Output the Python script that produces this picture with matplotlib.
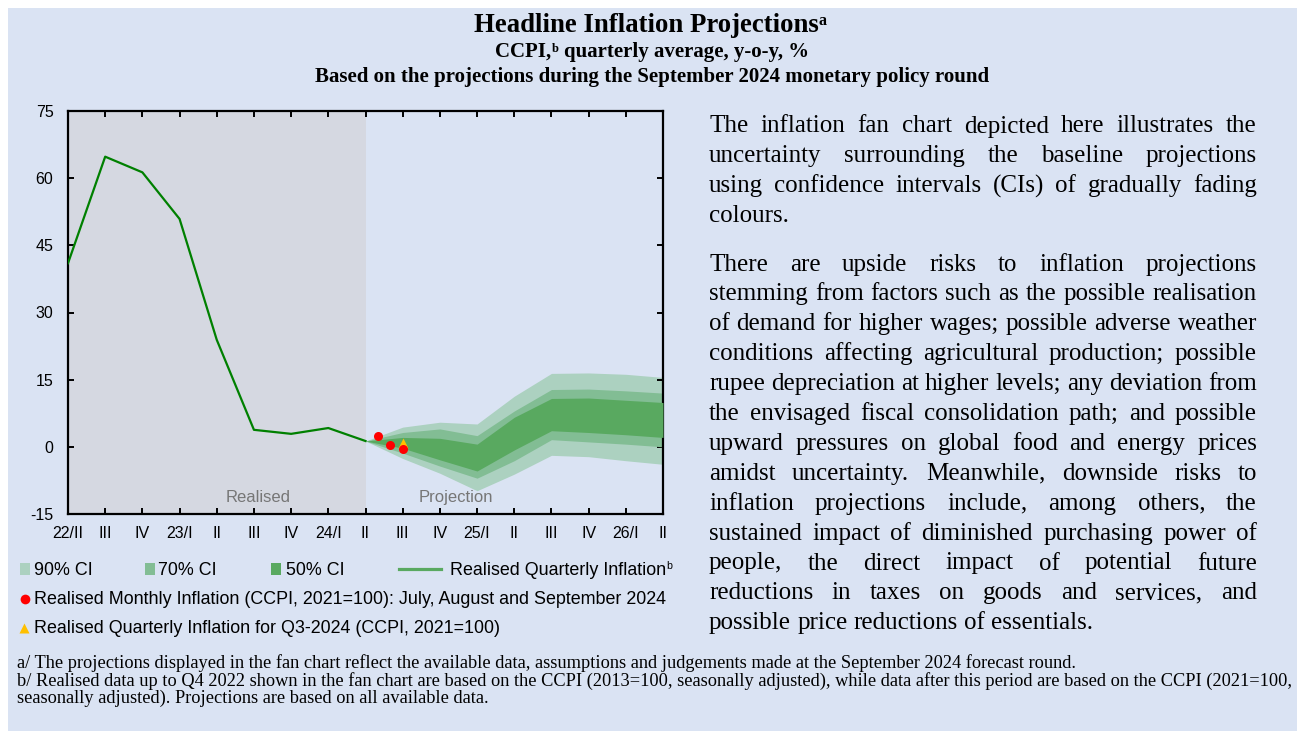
import matplotlib
matplotlib.use('Agg')
import matplotlib.pyplot as plt
from matplotlib.patches import Rectangle
from matplotlib.lines import Line2D

plt.rcParams['axes.unicode_minus'] = False

# ---- data ----
quarters = ['22/II', 'III', 'IV', '23/I', 'II', 'III', 'IV', '24/I', 'II',
            'III', 'IV', '25/I', 'II', 'III', 'IV', '26/I', 'II']
realised = [41.0, 64.8, 61.3, 50.9, 23.9, 3.8, 2.9, 4.2, 1.3]   # 22/II .. 24/II

# fan bands 24/II .. 26/II
ci90_hi = [1.3, 4.4, 5.5, 5.1, 11.3, 16.4, 16.5, 16.2, 15.5]
ci70_hi = [1.3, 3.2, 4.0, 2.5, 8.0, 12.8, 12.9, 12.5, 12.0]
ci50_hi = [1.3, 2.1, 1.9, 0.6, 6.6, 10.8, 10.9, 10.4, 9.9]
ci50_lo = [1.3, -0.3, -2.9, -5.4, -0.7, 3.6, 3.2, 2.7, 2.1]
ci70_lo = [1.3, -1.4, -4.3, -7.0, -3.1, 1.6, 1.1, 0.6, 0.0]
ci90_lo = [1.3, -2.6, -5.9, -9.8, -6.1, -1.9, -2.2, -3.1, -3.9]

months = ['Jul 2024', 'Aug 2024', 'Sep 2024']
monthly = [2.4, 0.5, -0.5]
q3_2024 = 0.8

para1 = ["The inflation fan chart depicted here illustrates the",
         "uncertainty surrounding the baseline projections",
         "using confidence intervals (CIs) of gradually fading",
         "colours."]
para2 = ["There are upside risks to inflation projections",
         "stemming from factors such as the possible realisation",
         "of demand for higher wages; possible adverse weather",
         "conditions affecting agricultural production; possible",
         "rupee depreciation at higher levels; any deviation from",
         "the envisaged fiscal consolidation path; and possible",
         "upward pressures on global food and energy prices",
         "amidst uncertainty. Meanwhile, downside risks to",
         "inflation projections include, among others, the",
         "sustained impact of diminished purchasing power of",
         "people, the direct impact of potential future",
         "reductions in taxes on goods and services, and",
         "possible price reductions of essentials."]
notes = ["a/ The projections displayed in the fan chart reflect the available data, assumptions and judgements made at the September 2024 forecast round.",
         "b/ Realised data up to Q4 2022 shown in the fan chart are based on the CCPI (2013=100, seasonally adjusted), while data after this period are based on the CCPI (2021=100,",
         "seasonally adjusted). Projections are based on all available data."]

BG = '#dae3f3'
GREY = '#d5d8e1'
C90, C70, C50 = '#acd1c0', '#82bd94', '#59a960'
SANS = ['Liberation Sans', 'DejaVu Sans']
SERIF = ['Liberation Serif', 'DejaVu Serif']

W, H = 1297, 731
fig = plt.figure(figsize=(W / 100, H / 100), dpi=100)
fig.patch.set_facecolor('white')
r = fig.canvas.get_renderer()

def fx(x):
    return x / W

def fy(y):
    return 1 - y / H

def add_text(x, y, s, **kw):
    return fig.text(fx(x), fy(y), s, **kw)

def text_w(s, **kw):
    t = fig.text(0, 0, s, **kw)
    w = t.get_window_extent(r).width
    t.remove()
    return w

def fit(s, target, **kw):
    return 10 * target / text_w(s, fontsize=10, **kw)

def space_w(**kw):
    return text_w('a a', **kw) - text_w('aa', **kw)

def put_runs(parts, x, base, center=False):
    # parts: (text, kwargs, rise_px, gap_before)
    ws = [text_w(p[0], **p[1]) + (space_w(**p[1]) if p[3] else 0) for p in parts]
    if center:
        x = x - sum(ws) / 2
    for (s, kw, rise, gap), w in zip(parts, ws):
        if gap:
            x += space_w(**kw)
            w -= space_w(**kw)
        add_text(x, base - rise, s, va='baseline', ha='left', **kw)
        x += w

# panel background
fig.add_artist(Rectangle((fx(8), 0), 1 - fx(8), fy(8), transform=fig.transFigure,
                         facecolor=BG, edgecolor='none', zorder=0))

# ---- chart ----
ax = fig.add_axes([fx(68), fy(514), (663 - 68) / W, (514 - 111) / H])
ax.set_facecolor(BG)
xi = list(range(len(quarters)))
n_real = len(realised)
xf = xi[n_real - 1:]
ax.axvspan(0, n_real - 1, color=GREY, lw=0, zorder=0)
ax.fill_between(xf, ci90_lo, ci90_hi, color=C90, lw=0, zorder=1)
ax.fill_between(xf, ci70_lo, ci70_hi, color=C70, lw=0, zorder=2)
ax.fill_between(xf, ci50_lo, ci50_hi, color=C50, lw=0, zorder=3)
ax.plot(xi[:n_real], realised, color='#008000', lw=1.6, zorder=4)

q3 = xi[n_real - 1]
mx = [q3 + (k + 1) / len(months) for k in range(len(months))]
ax.plot([mx[-1]], [q3_2024], '^', color='#ffc000', ms=7, mec='none', zorder=5)
ax.plot(mx, monthly, 'o', color='#ff0000', ms=6.5, mec='none', zorder=6)

ax.text(5.1, -11.4, 'Realised', ha='center', va='center', color='#767676',
        fontsize=12, family=SANS)
ax.text(10.43, -11.4, 'Projection', ha='center', va='center', color='#767676',
        fontsize=12, family=SANS)

ax.set_xlim(0, len(quarters) - 1)
ax.set_ylim(-15, 75)
ax.set_yticks(range(-15, 76, 15))
ax.set_xticks(xi)
ax.set_xticklabels(quarters)
for s in ax.spines.values():
    s.set_linewidth(1.6)
ax.tick_params(direction='in', length=4, width=1.4, top=True, right=True,
               labelsize=11.5, colors='black')
ax.tick_params(axis='y', pad=10.5)
ax.tick_params(axis='x', pad=9)
for lab in ax.get_xticklabels() + ax.get_yticklabels():
    lab.set_family(SANS)

# ---- legend (drawn by hand to follow the reference layout) ----
lg = fit('Realised Monthly Inflation (CCPI, 2021=100): July, August and September 2024',
         634, family=SANS)
for x0, c, lab, tx in [(20, C90, '90% CI', 33.5), (145, C70, '70% CI', 158),
                       (271, C50, '50% CI', 286)]:
    fig.add_artist(Rectangle((fx(x0), fy(575)), 10 / W, 12 / H, transform=fig.transFigure,
                             facecolor=c, edgecolor='none'))
    add_text(tx, 575, lab, fontsize=lg, family=SANS, va='baseline')
fig.add_artist(Line2D([fx(399), fx(441)], [fy(569), fy(569)], transform=fig.transFigure,
                      color=C50, lw=2.3))
put_runs([('Realised Quarterly Inflation', dict(fontsize=lg, family=SANS), 0, False),
          ('b', dict(fontsize=lg * 0.6, family=SANS), 6, False)], 450, 575)
fig.add_artist(Line2D([fx(25)], [fy(599)], transform=fig.transFigure, marker='o',
                      color='#ff0000', ms=7, mec='none', ls='none'))
add_text(33.5, 604, 'Realised Monthly Inflation (CCPI, 2021=100): July, August and September 2024',
         fontsize=lg, family=SANS, va='baseline')
fig.add_artist(Line2D([fx(24)], [fy(628)], transform=fig.transFigure, marker='^',
                      color='#ffc000', ms=7, mec='none', ls='none'))
add_text(33.5, 633, 'Realised Quarterly Inflation for Q3-2024 (CCPI, 2021=100)',
         fontsize=lg, family=SANS, va='baseline')

# ---- titles ----
ts = fit('Headline Inflation Projections', 345, family=SERIF, weight='bold')
put_runs([('Headline Inflation Projections', dict(fontsize=ts, family=SERIF, weight='bold'), 0, False),
          ('a', dict(fontsize=ts * 0.6, family=SERIF, weight='bold'), 7, False)], 650, 32, center=True)
ss = fit('Based on the projections during the September 2024 monetary policy round', 677,
         family=SERIF, weight='bold')
sk = dict(fontsize=ss, family=SERIF, weight='bold')
put_runs([('CCPI,', sk, 0, False),
          ('b', dict(fontsize=ss * 0.6, family=SERIF, weight='bold'), 5, False),
          ('quarterly average, y-o-y, %', sk, 0, True)], 652, 57, center=True)
put_runs([('Based on the projections during the September 2024 monetary policy round', sk, 0, False)],
         652, 82, center=True)

# ---- justified paragraph text ----
X0, X1 = 709, 1257
ps = min(fit(l, X1 - X0, family=SERIF) for l in para1[:-1] + para2[:-1])

def justify(line, base, last):
    words = line.split()
    kw = dict(fontsize=ps, family=SERIF)
    ws = [text_w(w_, **kw) for w_ in words]
    gap = space_w(**kw) if last else (X1 - X0 - sum(ws)) / (len(words) - 1)
    x = X0
    for w_, w in zip(words, ws):
        add_text(x, base, w_, va='baseline', **kw)
        x += w + gap

LS = 29.9
for i, l in enumerate(para1):
    justify(l, 132.5 + i * LS, i == len(para1) - 1)
for i, l in enumerate(para2):
    justify(l, 270.5 + i * LS, i == len(para2) - 1)

# ---- footnotes ----
fs = fit(notes[1], 1273, family=SERIF)
for l, b in zip(notes, [668, 686, 703]):
    add_text(17, b, l, fontsize=fs, family=SERIF, va='baseline')

fig.savefig('out.png', dpi=100, facecolor=fig.get_facecolor())
